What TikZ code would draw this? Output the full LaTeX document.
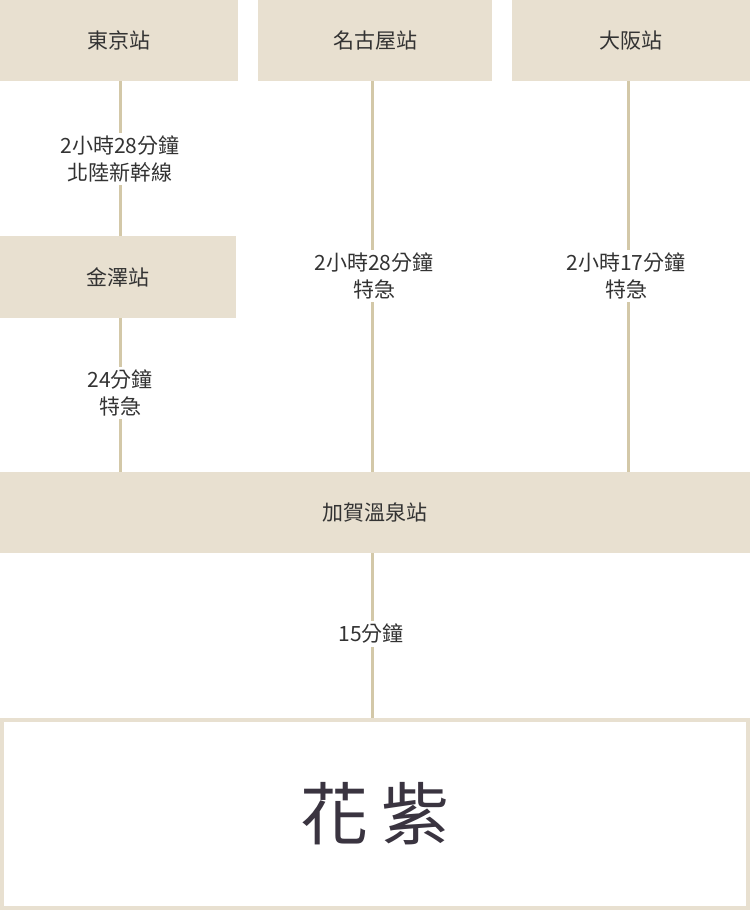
\documentclass[tikz,border=0pt]{standalone}
\usepackage{fontspec}
\setmainfont{Noto Sans CJK TC}
\definecolor{boxc}{HTML}{E8E0D0}
\definecolor{linec}{HTML}{D3C8A8}
\definecolor{txt}{HTML}{333333}
\definecolor{big}{HTML}{3A3440}
\begin{document}
\begin{tikzpicture}[x=1pt,y=-1pt,
  stn/.style={fill=boxc,inner sep=0,text=txt,font=\fontsize{21}{25}\selectfont},
  lbl/.style={fill=white,inner sep=3pt,text=txt,align=center,font=\fontsize{21}{27}\selectfont},
  ln/.style={draw=linec,line width=3pt}]
\useasboundingbox (0,0) rectangle (750,910);
\node[stn,minimum width=238,minimum height=81] (tok) at (119,40.5) {東京站};
\node[stn,minimum width=234,minimum height=81] (nag) at (375,40.5) {名古屋站};
\node[stn,minimum width=238,minimum height=81] (osa) at (631,40.5) {大阪站};
\node[stn,minimum width=236,minimum height=82] (kan) at (118,277) {金澤站};
\node[stn,minimum width=750,minimum height=81] (kag) at (375,512.5) {加賀溫泉站};
\node[draw=boxc,line width=4pt,minimum width=746,minimum height=188,inner sep=0] (hana) at (375,814) {};
\coordinate (t1) at (120,81); \coordinate (t2) at (120,236);
\coordinate (k1) at (120,318); \coordinate (k2) at (120,472);
\coordinate (n1) at (372,81); \coordinate (n2) at (372,472);
\coordinate (o1) at (628,81); \coordinate (o2) at (628,472);
\coordinate (g1) at (372,553); \coordinate (g2) at (372,718);
\draw[ln] (t1) -- (t2);
\draw[ln] (k1) -- (k2);
\draw[ln] (n1) -- (n2);
\draw[ln] (o1) -- (o2);
\draw[ln] (g1) -- (g2);
\node[lbl] (l1) at (120,159) {2小時28分鐘\\北陸新幹線};
\node[lbl] (l2) at (120,393) {24分鐘\\特急};
\node[lbl] (l3) at (374,276) {2小時28分鐘\\特急};
\node[lbl] (l4) at (626,276) {2小時17分鐘\\特急};
\node[lbl] (l5) at (371,634) {15分鐘};
\node[text=big,font=\fontsize{68}{70}\selectfont] at (hana) {花\hspace{14pt}紫};
\end{tikzpicture}
\end{document}
